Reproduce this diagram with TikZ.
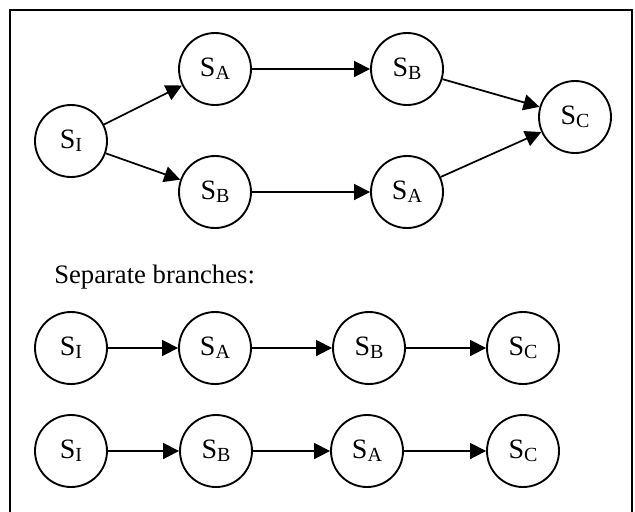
\documentclass[tikz,border=0pt]{standalone}
\usepackage{fontspec}
\setmainfont{Liberation Serif}
\usetikzlibrary{arrows.meta}
\newcommand{\st}[1]{S\raisebox{-0.25ex}{\fontsize{15}{17}\selectfont #1}}
\tikzset{
  x=0.75pt, y=-0.75pt,
  state/.style={circle, draw, line width=1.4pt, minimum size=54pt, inner sep=0pt,
    font=\fontsize{21}{25}\selectfont},
  conn/.style={line width=1.3pt, -{Triangle[length=12pt,width=12pt]}},
  frame/.style={line width=1.3pt}
}
\begin{document}
\begin{tikzpicture}
\useasboundingbox (0,0) rectangle (635,511);
\draw[frame] (10,515) -- (10,10) -- (632,10) -- (632,515);
% top diagram
\node[state] (ti) at (71,141) {\st{I}};
\node[state] (ta) at (215,69) {\st{A}};
\node[state] (tb) at (215,192) {\st{B}};
\node[state] (tb2) at (407,69) {\st{B}};
\node[state] (ta2) at (407,192) {\st{A}};
\node[state] (tc) at (575,117) {\st{C}};
\draw[conn] (ti) -- (ta);
\draw[conn] (ti) -- (tb);
\draw[conn] (ta) -- (tb2);
\draw[conn] (tb) -- (ta2);
\draw[conn] (tb2) -- (tc);
\draw[conn] (ta2) -- (tc);
% label
\node[anchor=base west, inner sep=0pt, font=\fontsize{20}{24}\selectfont] (lbl) at (54,283) {Separate branches:};
% row 1
\node[state] (r1i) at (71,348) {\st{I}};
\node[state] (r1a) at (215,348) {\st{A}};
\node[state] (r1b) at (369,348) {\st{B}};
\node[state] (r1c) at (523,348) {\st{C}};
\draw[conn] (r1i) -- (r1a);
\draw[conn] (r1a) -- (r1b);
\draw[conn] (r1b) -- (r1c);
% row 2
\node[state] (r2i) at (71,451) {\st{I}};
\node[state] (r2b) at (216,451) {\st{B}};
\node[state] (r2a) at (367,451) {\st{A}};
\node[state] (r2c) at (523,451) {\st{C}};
\draw[conn] (r2i) -- (r2b);
\draw[conn] (r2b) -- (r2a);
\draw[conn] (r2a) -- (r2c);
\end{tikzpicture}
\end{document}
